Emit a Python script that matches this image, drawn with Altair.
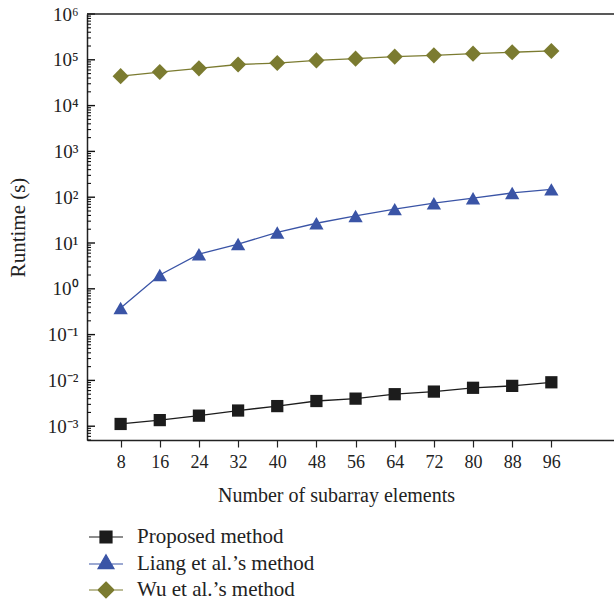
import altair as alt
import pandas as pd

elements = [8, 16, 24, 32, 40, 48, 56, 64, 72, 80, 88, 96]
proposed = [1.12e-3, 1.36e-3, 1.7e-3, 2.2e-3, 2.75e-3, 3.55e-3, 4.0e-3, 5.0e-3, 5.7e-3, 6.9e-3, 7.6e-3, 9.1e-3]
liang = [0.38, 2.0, 5.7, 9.5, 17, 27, 39, 55, 74, 95, 124, 148]
wu = [4.4e4, 5.4e4, 6.5e4, 7.9e4, 8.5e4, 9.7e4, 1.06e5, 1.17e5, 1.25e5, 1.36e5, 1.46e5, 1.56e5]

methods = ["Proposed method", "Liang et al.’s method", "Wu et al.’s method"]
colors = ["#1c1c1c", "#3a54a6", "#7b7b30"]
shapes = ["square", "triangle-up", "diamond"]
sizes = [150, 260, 230]
legend_paths = [
    "M-1.7,0H1.7M-0.6,-0.6H0.6V0.6H-0.6Z",
    "M-1.7,0H1.7M0,-0.93L0.8,0.47H-0.8Z",
    "M-1.7,0H1.7M0,-0.8L0.8,0L0,0.8L-0.8,0Z",
]

X_MIN, X_MAX = 1.13, 108.8
Y_MIN, Y_MAX = 5e-4, 1e6
major_ticks = [1e-3, 1e-2, 1e-1, 1e0, 1e1, 1e2, 1e3, 1e4, 1e5, 1e6]
minor_ticks = [m * 10.0 ** e for e in range(-4, 6) for m in range(2, 10)]
minor_ticks = [v for v in minor_ticks if Y_MIN <= v <= Y_MAX]
y_labels = ["10⁻³", "10⁻²", "10⁻¹", "10⁰", "10¹", "10²", "10³", "10⁴", "10⁵", "10⁶"]

rows = []
for m, vals in zip(methods, [proposed, liang, wu]):
    for x, v in zip(elements, vals):
        rows.append({"x": x, "method": m, "runtime": v})
df = pd.DataFrame(rows)

FONT = "Liberation Serif"
W, H = 527, 426
xs = alt.Scale(domain=[X_MIN, X_MAX], nice=False, zero=False)
ys = alt.Scale(type="log", domain=[Y_MIN, Y_MAX], nice=False)
cscale = alt.Scale(domain=methods, range=colors)

label_expr = "[" + ",".join("'" + s + "'" for s in y_labels) + "][round(log(datum.value)/LN10)+3]"

x_axis = alt.Axis(values=elements, title="Number of subarray elements", orient="bottom",
                  titleX=249, titlePadding=14, tickSize=7, labelPadding=6, grid=False)
y_axis = alt.Axis(values=major_ticks, labelExpr=label_expr, title="Runtime (s)", orient="left",
                  tickSize=0, labelPadding=9, grid=False, titlePadding=19, titleFontSize=21)

lines = alt.Chart(df).mark_line(strokeWidth=1.3).encode(
    x=alt.X("x:Q", scale=xs, axis=x_axis),
    y=alt.Y("runtime:Q", scale=ys, axis=y_axis),
    color=alt.Color("method:N", scale=cscale, legend=None),
    detail="method:N",
)

points = alt.Chart(df).mark_point(filled=True, opacity=1).encode(
    x=alt.X("x:Q", scale=xs, axis=x_axis),
    y=alt.Y("runtime:Q", scale=ys, axis=y_axis),
    color=alt.Color("method:N", scale=cscale, legend=None),
    shape=alt.Shape("method:N", scale=alt.Scale(domain=methods, range=shapes), legend=None),
    size=alt.Size("method:N", scale=alt.Scale(domain=methods, range=sizes), legend=None),
)

tick_major = alt.Chart(pd.DataFrame({"runtime": major_ticks})).mark_tick(
    orient="horizontal", size=8, thickness=1.4, color="#111", opacity=1).encode(
    y=alt.Y("runtime:Q", scale=ys, axis=y_axis), x=alt.value(4))
tick_minor = alt.Chart(pd.DataFrame({"runtime": minor_ticks})).mark_tick(
    orient="horizontal", size=4, thickness=1.1, color="#111", opacity=1).encode(
    y=alt.Y("runtime:Q", scale=ys, axis=y_axis), x=alt.value(2))

top_rule = alt.Chart(pd.DataFrame({"runtime": [Y_MAX]})).mark_rule(color="#222", strokeWidth=1.5).encode(
    y=alt.Y("runtime:Q", scale=ys, axis=y_axis), x=alt.datum(X_MIN, scale=xs, axis=x_axis), x2=alt.datum(X_MAX))

main = alt.layer(lines, points, tick_minor, tick_major, top_rule)

leg = dict(title=None, orient="none", legendX=8, legendY=512)
legend_layer = alt.Chart(df).mark_point(opacity=0).encode(
    fill=alt.Fill("method:N", scale=alt.Scale(domain=methods, range=colors), legend=alt.Legend(**leg)),
    stroke=alt.Stroke("method:N", scale=alt.Scale(domain=methods, range=colors), legend=alt.Legend(**leg)),
    shape=alt.Shape("method:N", scale=alt.Scale(domain=methods, range=legend_paths), legend=alt.Legend(**leg)),
)

chart = alt.layer(main, legend_layer).resolve_scale(
    shape="independent", fill="independent", stroke="independent"
).properties(
    width=W, height=H,
    autosize=alt.AutoSizeParams(type="none"),
    padding={"left": 87, "top": 14, "right": 0, "bottom": 163},
    background="white",
).configure_view(strokeWidth=0, strokeOpacity=0).configure_axis(
    domainColor="#222", domainWidth=1.5, tickColor="#222", tickWidth=1.2,
    labelFont=FONT, titleFont=FONT, labelColor="#222", titleColor="#222",
    labelFontSize=18, titleFontSize=20, titleFontWeight="normal",
).configure_axisY(labelFontSize=19).configure_legend(
    labelFont=FONT, labelFontSize=21, labelColor="#222", symbolSize=400, labelLimit=400,
    symbolStrokeWidth=1.2, symbolOpacity=1, labelOffset=20, rowPadding=5, padding=0,
)

chart.save("out.html", embed_options={"renderer": "svg", "actions": False})
